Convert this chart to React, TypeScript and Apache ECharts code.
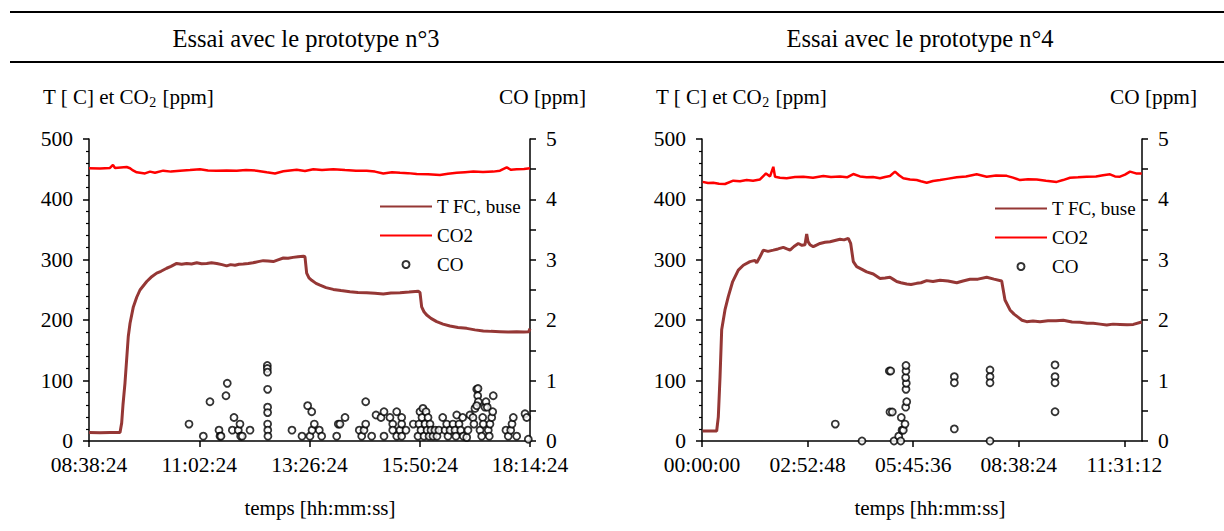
import React, { useEffect, useRef } from "react";
import * as echarts from "echarts";

// ---------- data (time in minutes) ----------
// Left panel: minutes elapsed since 08:38:24 ; right panel: minutes since 00:00:00
const leftStartMinutes = 518.4; // 08:38:24
const rightStartMinutes = 0; // 00:00:00

const leftTimeTicks = ["08:38:24", "11:02:24", "13:26:24", "15:50:24", "18:14:24"];
const rightTimeTicks = ["00:00:00", "02:52:48", "05:45:36", "08:38:24", "11:31:12"];

const seriesNames = ["T FC, buse", "CO2", "CO"];

const leftTFC: [number, number][] = [
  [0, 14], [14.4, 13.5], [27.4, 14], [40.5, 14], [42.7, 30], [44.4, 60], [47, 96], [51.3, 173],
  [53.6, 195], [57.9, 222], [62.3, 238], [66.6, 250], [75.4, 264], [81, 271], [88.4, 278], [94, 281],
  [101.5, 286], [107.1, 289], [114.5, 294], [121, 292.5], [127.6, 294], [134, 293], [140.7, 295],
  [147, 293.5], [153.7, 294], [160, 295], [166.8, 294], [173.7, 292], [179.8, 290], [185, 292],
  [190.7, 291], [196, 292.5], [201.5, 293], [208, 294], [214.2, 295], [221, 297], [227.6, 298.6],
  [233.8, 298], [240.7, 297], [246.9, 300], [253.8, 303], [260, 302.5], [266.4, 304], [273, 305],
  [279.9, 306], [282.1, 305], [284.3, 278], [287.3, 270], [290.9, 266], [296.5, 261], [301.7, 258],
  [309.6, 254], [319.1, 251], [329.1, 249], [340.9, 247], [351.3, 246], [362.7, 245.6], [373.5, 244.5],
  [384.4, 243.4], [394.4, 245], [406.2, 245.6], [418, 246.5], [430.1, 247.8], [432.3, 246],
  [434.5, 222], [437.5, 214], [441.1, 208.6], [446.7, 203], [454.1, 197.6], [462.4, 193.5],
  [471.5, 190.4], [481.9, 188], [493.3, 186.5], [504.1, 184], [515, 182], [525, 181.5],
  [536.8, 181], [547.3, 180.5], [558.6, 181], [568.1, 180.5], [574.4, 181], [576, 186],
];

const leftCO2: [number, number][] = [
  [0, 451.5], [14.4, 451], [27.4, 452], [31.3, 457], [34, 452], [49.2, 453.6], [53.6, 451.5],
  [57.5, 448], [62.3, 444.8], [73.1, 443], [79.7, 446], [86.2, 444], [97, 447.6], [107.1, 446],
  [118.9, 447.6], [131.9, 448.5], [145, 449.8], [155.4, 448], [166.8, 447.6], [179.8, 448],
  [192.9, 447.6], [205.1, 448.5], [219, 447.6], [232.1, 444.8], [242.9, 443], [253.8, 446.5],
  [262.5, 448], [271.3, 449], [282.1, 447], [293, 450], [304.3, 448.5], [319.1, 450], [334.4, 448.5],
  [348.7, 447.6], [362.7, 447.6], [373.5, 446], [384.4, 443], [395.7, 445], [406.2, 444],
  [416.6, 443.5], [428, 442], [442.8, 441.5], [458.4, 440.4], [468.9, 442.5], [480.3, 444],
  [491.1, 445], [502, 446], [514.6, 445.5], [528, 446], [536.8, 447.5], [545.6, 453], [551.2, 449],
  [558.6, 450], [568.1, 450.5], [576, 451.5],
];

const leftCO: [number, number][] = [
  [130.6, 0.28], [149.3, 0.08], [158, 0.65], [169.8, 0.18], [171.1, 0.08], [172.4, 0.08],
  [178.9, 0.75], [180.6, 0.955], [187.2, 0.18], [189.4, 0.39], [195, 0.18], [197.2, 0.28],
  [198.1, 0.08], [200.2, 0.08], [210.3, 0.18],
  [232.9, 1.25], [232.9, 1.2], [233.1, 1.14], [233.3, 0.855], [233.3, 0.56], [233.3, 0.47],
  [233.3, 0.28], [233.5, 0.18], [233.7, 0.08],
  [265.1, 0.18], [278.2, 0.08], [285.6, 0.585], [288.6, 0.08], [290.9, 0.485], [291.3, 0.18],
  [294.3, 0.28], [300.8, 0.18], [303.9, 0.08], [323.5, 0.08], [325.6, 0.28], [327.8, 0.28],
  [334.4, 0.39], [353, 0.18], [356.2, 0.08], [359.2, 0.18], [361.4, 0.28], [361.4, 0.65],
  [369.2, 0.08], [374.9, 0.43], [381.4, 0.39], [385.3, 0.485], [385.3, 0.08], [393.1, 0.39],
  [396.7, 0.28], [396.7, 0.18], [401.9, 0.485], [401.9, 0.08], [406.2, 0.18], [408.4, 0.39],
  [408.4, 0.28], [408.4, 0.08], [414, 0.18], [423.6, 0.28],
  [429.7, 0.08], [431, 0.28], [432.3, 0.485], [433.6, 0.18], [434.9, 0.39], [436.2, 0.54],
  [437.5, 0.08], [438.8, 0.28], [440.2, 0.485], [441.5, 0.18], [442.8, 0.39], [444.1, 0.08],
  [445.4, 0.28], [446.7, 0.18], [449.3, 0.08], [451.9, 0.18], [454.5, 0.08], [457.1, 0.18],
  [462, 0.39], [465, 0.18], [467.2, 0.28], [468.9, 0.08], [471.5, 0.18], [475.4, 0.28],
  [478, 0.18], [479.3, 0.08], [480.3, 0.43], [483.3, 0.28], [485.5, 0.18], [488.1, 0.39],
  [488.9, 0.08], [493.3, 0.06], [495, 0.18], [497.6, 0.43], [501.5, 0.39], [502.8, 0.28],
  [504.1, 0.54], [506.4, 0.855], [508.1, 0.87], [507.7, 0.75], [508.5, 0.65], [506.4, 0.585],
  [510.7, 0.18], [512.9, 0.08], [514.2, 0.39], [515, 0.28], [517.2, 0.56], [518.5, 0.65],
  [520.2, 0.56], [521.5, 0.18], [522.8, 0.08], [523.7, 0.28], [526, 0.39], [527.3, 0.485],
  [528, 0.75], [544.6, 0.18], [547.6, 0.08], [550.8, 0.18], [552.5, 0.28], [554.2, 0.39],
  [558.6, 0.08], [569.5, 0.45], [571.7, 0.39], [573.8, 0.03],
];

const rightTFC: [number, number][] = [
  [1, 16.5], [13.1, 16.5], [24, 16.5], [26.7, 40], [29.5, 106], [32.2, 184], [37.6, 217],
  [43, 239], [50.2, 264], [59.4, 283], [67.6, 291], [78.5, 297], [86.7, 299], [89.5, 295],
  [94.9, 305], [100.3, 316], [108, 314], [116.7, 316], [124.4, 318], [133, 320.6], [139.1, 318],
  [144, 316], [150.5, 322], [157.6, 327], [163.6, 324], [168.5, 325], [171.3, 342.7], [173.5, 330],
  [176.7, 325], [182.1, 321.7], [186.5, 324], [193.1, 327], [201.3, 329], [209.5, 330],
  [217.6, 332], [225.8, 334], [232.4, 333], [239.4, 335.6], [243.3, 327], [247.6, 297],
  [253.1, 288.6], [260.2, 285], [269.5, 280], [280.3, 276.5], [291.3, 269], [299.5, 270],
  [307.6, 271], [312.5, 268], [318.6, 264], [325.6, 262], [335, 260], [342, 259], [351.3, 261],
  [358.4, 262], [367.7, 265.5], [378, 264], [389.5, 266], [402.6, 265], [416.8, 262],
  [427.1, 265], [438.5, 267.7], [451.6, 268], [465.9, 271], [477.8, 268], [490.4, 265],
  [495.8, 233.4], [504, 217], [510.6, 210], [517.6, 204.7], [523.6, 200], [531.3, 197.6],
  [541.6, 198.5], [553.1, 197.6], [566.2, 199], [579.3, 199], [591.2, 200], [605.5, 197],
  [618.6, 196.5], [630, 195], [640.3, 194.8], [651.3, 193.5], [662.3, 192], [672.6, 193.5],
  [684, 193], [695.5, 192.5], [705.8, 193], [719.5, 197],
];

const rightCO2: [number, number][] = [
  [1, 429], [9.8, 427], [18.5, 427.7], [27.8, 426], [37.6, 425.5], [51.2, 431], [62.2, 430],
  [73.1, 432], [83.5, 431], [94.9, 433], [104.7, 443], [111.3, 438], [116.7, 454], [119.5, 437.6],
  [127.6, 436], [138.6, 435], [152.2, 437], [165.8, 437.6], [181.6, 436], [198.5, 438.7],
  [211.1, 437], [225.8, 438], [237.3, 436.5], [247.6, 442], [258.5, 438], [269.5, 436.5],
  [279.8, 437], [291.3, 435], [299.5, 437], [307.6, 438.7], [315.8, 446], [322.4, 440],
  [329.4, 435], [340.4, 433], [351.3, 432], [358.4, 430], [367.7, 427.7], [378, 430.5],
  [389.5, 432], [401, 434], [416.8, 436.5], [432, 438], [449.5, 441.5], [465.9, 437.6],
  [481.1, 439.5], [498.6, 439], [508.9, 436], [520.4, 432], [533.5, 433.5], [547.7, 433],
  [562.9, 431], [580.4, 429], [590.7, 432], [602.2, 435.8], [615.3, 436.5], [629.5, 437.6],
  [644.7, 438], [656.2, 440], [667.6, 441.5], [675.8, 438], [684, 437.6], [692.2, 441],
  [700.4, 446], [710.2, 443], [719.5, 443],
];

const rightCO: [number, number][] = [
  [218.1, 0.28], [261.8, 0.0], [306.5, 1.16], [308.8, 1.16], [307.6, 0.48], [311.4, 0.48],
  [314.2, 0.0], [321.9, 0.08], [325.2, 0.0], [326.1, 0.39], [327.3, 0.18], [329.4, 0.18],
  [332.2, 0.28], [333.3, 0.56], [335, 0.65], [333.8, 0.855], [334.3, 0.955], [333.3, 1.05],
  [333.8, 1.16], [333.8, 1.25],
  [412.9, 1.065], [412.9, 0.965], [412.9, 0.2],
  [471.3, 1.175], [471.3, 1.065], [471.3, 0.965], [471.3, 0.0],
  [577.7, 1.26], [577.7, 1.065], [577.7, 0.965], [577.7, 0.485],
];

// ---------- helpers ----------
const FONT = "Liberation Serif";
const BROWN = "#953735";
const RED = "#ff0000";

const pad = (n: number) => (n < 10 ? "0" + n : "" + n);
const fmtTime = (minutes: number) => {
  const s = Math.round(minutes * 60);
  const h = Math.floor(s / 3600) % 24;
  const m = Math.floor((s % 3600) / 60);
  const sec = s % 60;
  return pad(h) + ":" + pad(m) + ":" + pad(sec);
};

function buildOption() {
  const axisLineStyle = { color: "#000", width: 1.5 };
  const labelStyle = { color: "#000", fontFamily: FONT, fontSize: 21.5 };

  const xAxisFor = (gridIndex: number, max: number, interval: number, start: number, hideMax: boolean) => ({
    type: "value",
    gridIndex,
    min: 0,
    max,
    interval,
    axisLine: { show: true, onZero: false, lineStyle: axisLineStyle },
    axisTick: { show: true, length: 6, lineStyle: axisLineStyle },
    axisLabel: {
      ...labelStyle,
      margin: 13,
      showMaxLabel: !hideMax,
      formatter: (v: number) => fmtTime(start + v),
    },
    splitLine: { show: false },
  });

  const yLeft = (gridIndex: number) => ({
    type: "value",
    gridIndex,
    position: "left",
    min: 0,
    max: 500,
    interval: 100,
    axisLine: { show: true, onZero: false, lineStyle: axisLineStyle },
    axisTick: { show: true, length: 6, lineStyle: axisLineStyle },
    minorTick: { show: true, splitNumber: 5, length: 3, lineStyle: { color: "#000", width: 1.2 } },
    axisLabel: { ...labelStyle, margin: 16 },
    splitLine: { show: false },
    minorSplitLine: { show: false },
  });

  const yRight = (gridIndex: number) => ({
    type: "value",
    gridIndex,
    position: "right",
    min: 0,
    max: 5,
    interval: 1,
    axisLine: { show: true, onZero: false, lineStyle: axisLineStyle },
    axisTick: { show: true, length: 6, lineStyle: axisLineStyle },
    minorTick: { show: true, splitNumber: 2, length: 6, lineStyle: { color: "#000", width: 1.5 } },
    axisLabel: { ...labelStyle, margin: 16 },
    splitLine: { show: false },
    minorSplitLine: { show: false },
  });

  const lineSeries = (name: string, data: [number, number][], color: string, width: number, gi: number) => ({
    type: "line",
    name,
    xAxisIndex: gi,
    yAxisIndex: gi * 2,
    data,
    showSymbol: false,
    symbol: "none",
    lineStyle: { color, width },
    itemStyle: { color },
    z: 3,
  });

  const coSeries = (data: [number, number][], gi: number) => ({
    type: "scatter",
    name: seriesNames[2],
    xAxisIndex: gi,
    yAxisIndex: gi * 2 + 1,
    data,
    symbol: "circle",
    symbolSize: 7,
    itemStyle: { color: "#fff", borderColor: "#000", borderWidth: 1.8 },
    z: 4,
  });

  const legendFor = (left: number, top: number) => ({
    orient: "vertical",
    left,
    top,
    padding: 0,
    data: [
      { name: seriesNames[0], itemStyle: { opacity: 0 } },
      { name: seriesNames[1], itemStyle: { opacity: 0 } },
      { name: seriesNames[2] },
    ],
    itemWidth: 52,
    itemHeight: 7,
    itemGap: 8,
    selectedMode: false,
    textStyle: { color: "#000", fontFamily: FONT, fontSize: 19, lineHeight: 21 },
  });

  const hLine = (y: number) => ({
    type: "line",
    shape: { x1: 10, y1: y, x2: 1224, y2: y },
    style: { stroke: "#000", lineWidth: 2 },
  });

  const text = (x: number, y: number, t: string, size: number, align: string) => ({
    type: "text",
    x,
    y,
    style: {
      text: t,
      fill: "#000",
      fontFamily: FONT,
      fontSize: size,
      textAlign: align,
      textVerticalAlign: "middle",
    },
  });

  const leftAxisName = (x: number, y: number) => ({
    type: "text",
    x,
    y,
    style: {
      text: "{a|T [ C] et CO}{s|2}{a| [ppm]}",
      fill: "#000",
      textAlign: "left",
      textVerticalAlign: "middle",
      rich: {
        a: { fontFamily: FONT, fontSize: 21, lineHeight: 24, fill: "#000", verticalAlign: "middle" },
        s: { fontFamily: FONT, fontSize: 14, lineHeight: 24, fill: "#000", verticalAlign: "bottom", padding: [0, 1, 0, 0] },
      },
    },
  });

  return {
    animation: false,
    backgroundColor: "#fff",
    grid: [
      { left: 89, top: 139, width: 441, height: 302, outerBoundsMode: "none" },
      { left: 702, top: 139, width: 440, height: 302, outerBoundsMode: "none" },
    ],
    xAxis: [
      xAxisFor(0, 576, 144, leftStartMinutes, false),
      xAxisFor(1, 720, 172.8, rightStartMinutes, true),
    ],
    yAxis: [yLeft(0), yRight(0), yLeft(1), yRight(1)],
    legend: [legendFor(379, 196), legendFor(994, 198)],
    series: [
      lineSeries(seriesNames[0], leftTFC, BROWN, 3, 0),
      lineSeries(seriesNames[1], leftCO2, RED, 2.5, 0),
      coSeries(leftCO, 0),
      lineSeries(seriesNames[0], rightTFC, BROWN, 3, 1),
      lineSeries(seriesNames[1], rightCO2, RED, 2.5, 1),
      coSeries(rightCO, 1),
    ],
    graphic: [
      hLine(12),
      hLine(62),
      text(306, 38, "Essai avec le prototype n°3", 24.5, "center"),
      text(920, 38, "Essai avec le prototype n°4", 24.5, "center"),
      leftAxisName(43, 97),
      leftAxisName(656, 97),
      text(586, 97, "CO [ppm]", 21.3, "right"),
      text(1197, 97, "CO [ppm]", 21.3, "right"),
      text(320, 508, "temps [hh:mm:ss]", 21, "center"),
      text(930, 508, "temps [hh:mm:ss]", 21, "center"),
    ],
  };
}

export default function App() {
  const ref = useRef<HTMLDivElement | null>(null);
  useEffect(() => {
    if (!ref.current) return;
    const chart = echarts.init(ref.current, undefined, { renderer: "svg" });
    chart.setOption(buildOption() as any);
    return () => chart.dispose();
  }, []);
  return (
    <div
      ref={ref}
      style={{ position: "absolute", left: 0, top: 0, width: 1224, height: 531, background: "#fff" }}
    />
  );
}
